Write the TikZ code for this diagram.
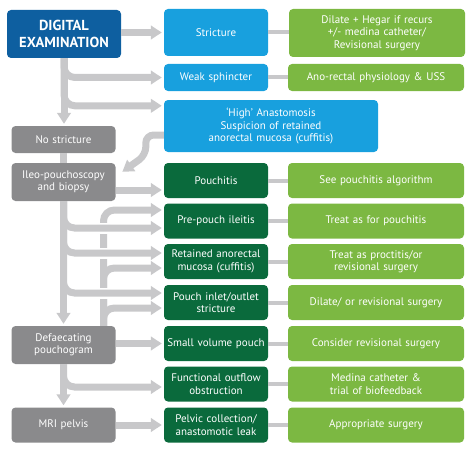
\documentclass[tikz,border=0pt]{standalone}
\usepackage{fontspec}
\setmainfont{PT Sans}
\definecolor{deepblue}{RGB}{14,95,160}
\definecolor{skyblue}{RGB}{24,160,222}
\definecolor{slate}{RGB}{138,138,140}
\definecolor{deepgreen}{RGB}{10,106,60}
\definecolor{leafgreen}{RGB}{124,184,66}
\definecolor{pipe}{RGB}{200,200,202}
\usetikzlibrary{
	arrows.meta,
	positioning,
	calc
}
\tikzset{
  % arrow
	cstline/.style    ={line width=7pt, draw=pipe, rounded corners=11pt},
	cstpipe/.style    ={cstline, -{Triangle[width=13.5pt,length=11pt]}, shorten >=2pt},
	cstlink/.style    ={line width=4pt, draw=pipe},
	cstgap/.style     ={line width=11pt, draw=white},
  % node
	cstnode/.style    ={rounded corners=4pt, text=white, align=center, inner sep=0pt, font=\fontsize{11}{12.5}\selectfont},
	cstexam/.style    ={cstnode, fill=deepblue, text width=110, font=\bfseries\fontsize{14.5}{17}\selectfont},
	cstfind/.style    ={cstnode, fill=skyblue},
	cstdiag/.style    ={cstnode, fill=deepgreen, minimum width=104, text width=100, minimum height=35},
	csttest/.style    ={cstdiag, fill=slate},
	cstplan/.style    ={cstnode, fill=leafgreen, minimum width=176, text width=170, minimum height=35}
}
\begin{document}
\begin{tikzpicture}[x=1pt,y=1pt]
	\useasboundingbox (0,0) rectangle (474,-452);
	% left column
	\node[cstexam, minimum width=114, minimum height=48] (exam) at (64,-34) {DIGITAL\\EXAMINATION};
	\node[csttest, minimum height=27] (nostric) at (63.5,-139.5) {No stricture};
	\node[csttest, minimum height=38] (ileo) at (63.5,-182) {Ileo-pouchoscopy\\and biopsy};
	\node[csttest, minimum height=38] (defaec) at (63.5,-345) {Defaecating\\pouchogram};
	\node[csttest] (mri) at (63.5,-425) {MRI pelvis};
	% findings
	\node[cstfind, minimum width=104, text width=100, minimum height=47] (stric) at (216,-32.5) {Stricture};
	\node[cstfind, minimum width=104, text width=100, minimum height=27] (weak) at (216,-77.5) {Weak sphincter};
	\node[cstfind, minimum width=214, text width=200, minimum height=52] (high) at (271,-126) {‘High’ Anastomosis\\Suspicion of retained\\anorectal mucosa (cuffitis)};
	\node[cstdiag] (pouchitis) at (216,-180.5) {Pouchitis};
	\node[cstdiag] (prepouch) at (216,-221) {Pre-pouch ileitis};
	\node[cstdiag] (retained) at (216,-261.5) {Retained anorectal\\mucosa (cuffitis)};
	\node[cstdiag] (inlet) at (216,-302.5) {Pouch inlet/outlet\\stricture};
	\node[cstdiag] (small) at (216,-343.5) {Small volume pouch};
	\node[cstdiag] (func) at (216,-384) {Functional outflow\\obstruction};
	\node[cstdiag] (pelvic) at (216,-425) {Pelvic collection/\\anastomotic leak};
	% management
	\node[cstplan, minimum height=48] (dilate) at (377,-33) {Dilate + Hegar if recurs\\+/- medina catheter/\\Revisional surgery};
	\node[cstplan, minimum height=27] (ano) at (376,-77.5) {Ano-rectal physiology \& USS};
	\node[cstplan] (seealg) at (376,-180.5) {See pouchitis algorithm};
	\node[cstplan] (treatp) at (376,-221) {Treat as for pouchitis};
	\node[cstplan] (proct) at (376,-261.5) {Treat as proctitis/or\\revisional surgery};
	\node[cstplan] (dilrev) at (376,-302.5) {Dilate/ or revisional surgery};
	\node[cstplan] (consid) at (376,-343.5) {Consider revisional surgery};
	\node[cstplan] (medina) at (376,-384) {Medina catheter \&\\trial of biofeedback};
	\node[cstplan] (approp) at (376,-425) {Appropriate surgery};
	% links
	\foreach \a/\b in {stric/dilate,weak/ano,pouchitis/seealg,prepouch/treatp,retained/proct,inlet/dilrev,small/consid,func/medina,pelvic/approp}
		\draw[cstlink] (\a.east) -- (\a.east -| \b.west);
	% digital examination
	\draw[cstpipe] (exam.east |- stric) -- (stric.west);
	\draw[cstpipe] (exam.south) |- (weak.west);
	\draw[cstpipe] (exam.south) |- ($(high.north west)+(0,-6)$);
	\draw[cstpipe] (exam.south) -- (exam.south |- nostric.north);
	\draw[cstline] (nostric.south) -- (ileo.north);
	\draw[cstpipe, rounded corners=8pt] ($(high.west)+(0,-9)$) -- ++(-18,0) -- ++(0,-20) -- ($(ileo.east)+(5,9)$);
	% pouchoscopy
	\coordinate (p0) at ($(ileo.east)+(0,-8)$);
	\draw[cstpipe] (p0) -- (p0 -| pouchitis.west);
	\coordinate (trunkB) at ($(defaec.north)+(40,0)$);
	\draw[cstpipe] (trunkB) |- ($(prepouch.west)+(0,11)$);
	\draw[cstpipe] (trunkB) |- ($(retained.west)+(0,-6.5)$);
	\draw[cstpipe] (trunkB) |- ($(inlet.west)+(0,-5.5)$);
	\coordinate (b1) at ($(prepouch.west)+(0,-7)$);
	\coordinate (b2) at ($(retained.west)+(0,8.5)$);
	\coordinate (b3) at ($(inlet.west)+(0,9.5)$);
	\foreach \c in {b1,b2,b3}
		\draw[cstgap] ($(trunkB |- \c)+(-7,0)$) -- ++(14,0);
	\draw[cstpipe] (ileo.south) |- (b1);
	\draw[cstpipe] (ileo.south) |- (b2);
	\draw[cstpipe] (ileo.south) |- (b3);
	\draw[cstpipe] (ileo.south) -- (defaec.north);
	% pouchogram
	\draw[cstpipe] (defaec.east |- small) -- (small.west);
	\draw[cstpipe] (defaec.south) |- ($(func.west)+(0,-3)$);
	\draw[cstpipe] (defaec.south) -- (mri.north);
	\draw[cstpipe] (mri.east |- pelvic) -- (pelvic.west);
\end{tikzpicture}
\end{document}
